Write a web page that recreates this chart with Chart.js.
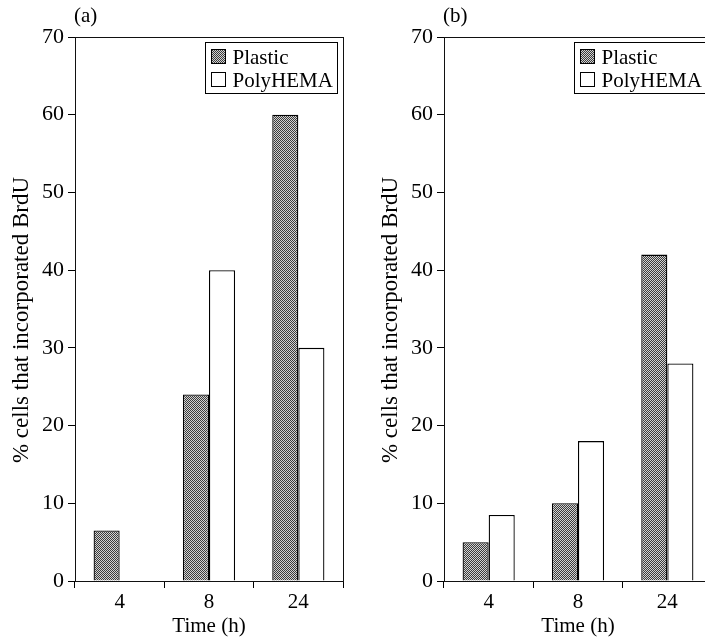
<!DOCTYPE html>
<html>
<head>
<meta charset="utf-8">
<script src="https://cdn.jsdelivr.net/npm/chart.js@4/dist/chart.umd.min.js"></script>
<style>
  html, body { margin: 0; padding: 0; background: #fff; width: 705px; height: 639px; overflow: hidden; position: relative; }
  .wrap { position: absolute; top: 0; width: 360px; height: 639px; }
  #wa { left: 0; }
  #wb { left: 369px; }
</style>
</head>
<body>
<div class="wrap" id="wa"><canvas id="ca" width="360" height="639"></canvas></div>
<div class="wrap" id="wb"><canvas id="cb" width="360" height="639"></canvas></div>
<script>
// ---- Data ----
const categories = ['4', '8', '24'];
const seriesNames = ['Plastic', 'PolyHEMA'];
const plasticA = [6.5, 24, 60];
const polyhemaA = [null, 40, 30];
const plasticB = [5, 10, 42];
const polyhemaB = [8.5, 18, 28];
const yMin = 0, yMax = 70, yStep = 10;
const panelLabels = ['(a)', '(b)'];
const xTitle = 'Time (h)';
const yTitle = '% cells that incorporated BrdU';

const FONT = '"Liberation Serif", "Times New Roman", serif';

function makePattern() {
  const c = document.createElement('canvas');
  c.width = 2; c.height = 2;
  const g = c.getContext('2d');
  g.fillStyle = '#d2d2d2'; g.fillRect(0, 0, 2, 2);
  g.fillStyle = '#3c3c3c'; g.fillRect(0, 0, 1, 1); g.fillRect(1, 1, 1, 1);
  return g.createPattern(c, 'repeat');
}
const pattern = makePattern();

const decorPlugin = {
  id: 'decor',
  afterDraw(chart, args, opts) {
    const ctx = chart.ctx;
    const a = chart.chartArea;
    ctx.save();
    // frame
    ctx.strokeStyle = '#111';
    ctx.lineWidth = 1;
    ctx.strokeRect(Math.round(a.left) + 0.5, Math.round(a.top) + 0.5, Math.round(a.right - a.left), Math.round(a.bottom - a.top));
    // panel label
    ctx.fillStyle = '#000';
    ctx.font = '21px ' + FONT;
    ctx.textAlign = 'left';
    ctx.textBaseline = 'alphabetic';
    ctx.fillText(opts.panel, a.left - 1, 22);
    // y title
    ctx.save();
    ctx.translate(28, 320);
    ctx.rotate(-Math.PI / 2);
    ctx.textAlign = 'center';
    ctx.font = '23px ' + FONT;
    ctx.fillText(yTitle, 0, 0);
    ctx.restore();
    // legend
    const bw = 132, bh = 51;
    const bx = Math.round(a.right - 6 - bw) + 0.5, by = Math.round(a.top + 5) + 0.5;
    ctx.fillStyle = '#fff';
    ctx.fillRect(bx, by, bw, bh);
    ctx.strokeStyle = '#000';
    ctx.strokeRect(bx, by, bw, bh);
    ctx.font = '21px ' + FONT;
    chart.data.datasets.forEach((ds, i) => {
      const sy = by + 7 + i * 23;
      ctx.fillStyle = ds.backgroundColor;
      ctx.fillRect(bx + 6, sy, 14, 14);
      ctx.strokeStyle = '#000';
      ctx.strokeRect(bx + 6, sy, 14, 14);
      ctx.fillStyle = '#000';
      ctx.fillText(ds.label, bx + 27, sy + 14);
    });
    ctx.restore();
  }
};

function build(id, plastic, polyhema, panel) {
  return new Chart(document.getElementById(id), {
    type: 'bar',
    data: {
      labels: categories,
      datasets: [
        { label: seriesNames[0], data: plastic, backgroundColor: pattern, borderColor: '#000', borderWidth: 1.3, categoryPercentage: 0.584, barPercentage: 1.0 },
        { label: seriesNames[1], data: polyhema, backgroundColor: '#fff', borderColor: '#000', borderWidth: 1.3, categoryPercentage: 0.584, barPercentage: 1.0 }
      ]
    },
    options: {
      responsive: false,
      animation: false,
      devicePixelRatio: 1,
      layout: { padding: { top: 37, right: 17, left: 0, bottom: 0 } },
      plugins: {
        legend: { display: false },
        tooltip: { enabled: false },
        decor: { panel: panel }
      },
      scales: {
        x: {
          offset: true,
          grid: { display: true, offset: true, drawOnChartArea: false, tickLength: 7, color: '#000', lineWidth: 1 },
          border: { color: '#000', width: 1 },
          ticks: { color: '#000', font: { family: FONT, size: 21 }, padding: 2 },
          title: { display: true, text: xTitle, color: '#000', font: { family: FONT, size: 21 }, padding: { top: 0, bottom: 0 } },
          afterFit(s) { s.height = 58; }
        },
        y: {
          min: yMin, max: yMax,
          grid: { display: true, drawOnChartArea: false, tickLength: 7, color: '#000', lineWidth: 1 },
          border: { color: '#000', width: 1 },
          ticks: { stepSize: yStep, color: '#000', font: { family: FONT, size: 22 }, padding: 4 },
          afterFit(s) { s.width = 75; }
        }
      }
    },
    plugins: [decorPlugin]
  });
}

build('ca', plasticA, polyhemaA, panelLabels[0]);
build('cb', plasticB, polyhemaB, panelLabels[1]);
</script>
</body>
</html>
